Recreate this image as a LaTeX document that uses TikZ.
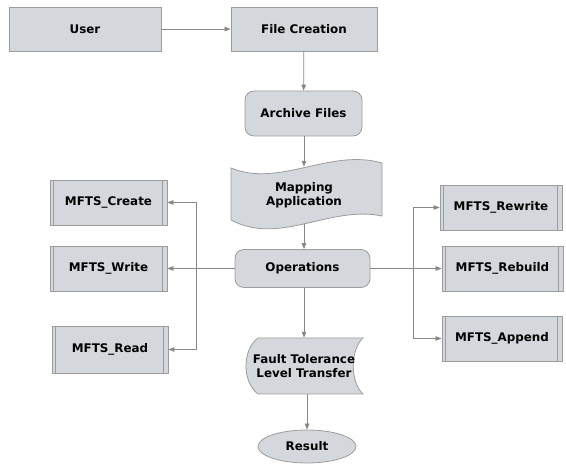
\documentclass[tikz,border=0pt]{standalone}
\usepackage{fontspec}
\setmainfont{DejaVu Sans}
\usetikzlibrary{arrows.meta,shapes.geometric}
\definecolor{boxfill}{HTML}{D4D8DC}
\definecolor{boxline}{HTML}{9C9C9C}
\definecolor{arrowc}{HTML}{888888}
\tikzset{
  txt/.style={font=\bfseries\fontsize{11.9}{14}\selectfont, text=black, inner sep=0pt, align=center},
  base/.style={txt, fill=boxfill, draw=boxline, line width=0.8pt},
  rectbox/.style={base, rectangle},
  roundbox/.style={base, rounded corners=9pt},
  subbox/.style={base, path picture={\draw[boxline, line width=0.8pt]
      ([xshift=3.5pt]path picture bounding box.north west) -- ([xshift=3.5pt]path picture bounding box.south west)
      ([xshift=-4.5pt]path picture bounding box.north east) -- ([xshift=-4.5pt]path picture bounding box.south east);}},
  shapefill/.style={fill=boxfill, draw=boxline, line width=0.8pt},
  conn/.style={draw=arrowc, line width=0.75pt, -{Triangle[length=6pt,width=4.5pt]}},
  plain/.style={draw=arrowc, line width=0.75pt},
}
\begin{document}
\begin{tikzpicture}[x=1pt, y=-1pt]
\useasboundingbox (0,0) rectangle (566,465);
% top row
\node[rectbox, minimum width=152, minimum height=44] (user) at (85,29) {User};
\node[rectbox, minimum width=146, minimum height=44] (fc) at (304,29) {File Creation};
\node[roundbox, minimum width=117, minimum height=45] (af) at (303.5,113.5) {Archive Files};
% mapping application (tape)
\path[shapefill] (231,168) .. controls (280,188) and (330,148) .. (382,163)
  -- (382,216) .. controls (330,205) and (280,246) .. (231,220) -- cycle;
\node[txt, minimum width=150, minimum height=57] (map) at (304,195.5) {Mapping\\Application};
% operations
\node[roundbox, minimum width=135, minimum height=38] (ops) at (302.5,268.5) {Operations};
% left boxes
\node[subbox, minimum width=117, minimum height=45] (create) at (108.5,202.5) {MFTS\_Create};
\node[subbox, minimum width=117, minimum height=45] (write) at (108.5,268.5) {MFTS\_Write};
\node[subbox, minimum width=116, minimum height=47] (read) at (110,349.5) {MFTS\_Read};
% right boxes
\node[subbox, minimum width=122, minimum height=45] (rewrite) at (501,207.5) {MFTS\_Rewrite};
\node[subbox, minimum width=121, minimum height=45] (rebuild) at (502.5,268.5) {MFTS\_Rebuild};
\node[subbox, minimum width=120, minimum height=45] (append) at (502,338.5) {MFTS\_Append};
% fault tolerance (stored data)
\path[shapefill] (258,338) -- (363,338) .. controls (350,350) and (350,382) .. (363,394)
  -- (258,394) .. controls (242,382) and (242,350) .. (258,338) -- cycle;
\node[txt, minimum width=117, minimum height=56] (ft) at (304,366) {Fault Tolerance\\Level Transfer};
% result
\node[base, ellipse, minimum width=98, minimum height=33] (res) at (307,446.5) {Result};
% connectors
\draw[conn] (user) -- (fc);
\draw[conn] (fc) -- (af);
\draw[conn] (af.south -| map.north) -- (map.north);
\draw[conn] (map.south) -- (ops.north -| map.south);
\draw[conn] (ops.south -| ft.north) -- (ft.north);
\draw[conn] (res |- ft.south) -- (res.north);
\coordinate (lj) at (196,268.5);
\coordinate (rj) at (413,268.5);
\draw[plain] (ops.west) -- (lj);
\draw[conn] (lj) |- (create.east);
\draw[conn] (lj) -- (write.east);
\draw[conn] (lj) |- (read.east);
\draw[plain] (ops.east) -- (rj);
\draw[conn] (rj) |- (rewrite.west);
\draw[conn] (rj) -- (rebuild.west);
\draw[conn] (rj) |- (append.west);
\end{tikzpicture}
\end{document}
